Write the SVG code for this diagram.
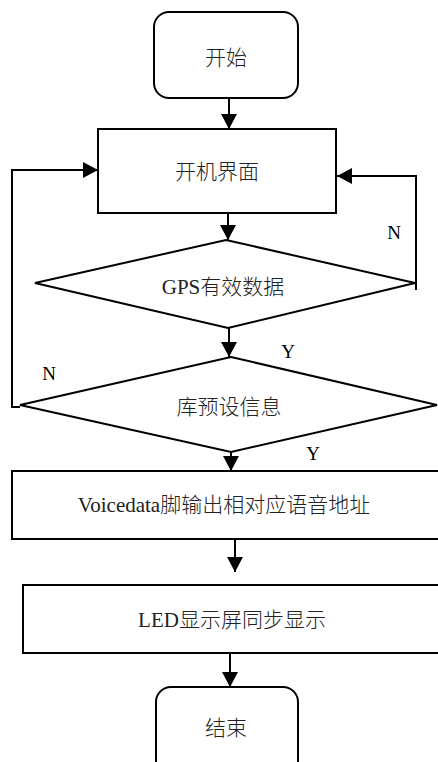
<svg xmlns="http://www.w3.org/2000/svg" width="438" height="762" viewBox="0 0 438 762">
<style>
.s{fill:#fff;stroke:#000;stroke-width:2}
.c{fill:none;stroke:#000;stroke-width:2}
.t{font-family:"Liberation Serif","Noto Sans CJK SC",serif;font-size:21px;font-weight:300;fill:#222;text-anchor:middle}
.l{font-family:"Liberation Serif",serif;font-size:19px;fill:#000;text-anchor:middle}
</style>
<defs>
<marker id="ah" viewBox="0 0 15 16" refX="15" refY="8" markerWidth="15" markerHeight="16" markerUnits="userSpaceOnUse" orient="auto">
<path d="M0,0 L15,8 L0,16 Z" fill="#000"/>
</marker>
</defs>
<rect width="438" height="762" fill="#fff"/>
<g id="start"><rect class="s" x="154" y="12" width="144" height="86" rx="15"/><text class="t" x="226" y="65">开始</text></g>
<g id="boot"><rect class="s" x="98" y="129" width="238" height="84"/><text class="t" x="217" y="179">开机界面</text></g>
<g id="gps"><polygon class="s" points="226,240 415,283 228,328 35,283"/><text class="t" x="223" y="294">GPS有效数据</text></g>
<g id="preset"><polygon class="s" points="231,357 437,405 231,452 20,405"/><text class="t" x="229" y="414">库预设信息</text></g>
<g id="voice"><rect class="s" x="12" y="471" width="440" height="68"/><text class="t" x="224" y="512">Voicedata脚输出相对应语音地址</text></g>
<g id="led"><rect class="s" x="23" y="585" width="430" height="68"/><text class="t" x="232" y="627">LED显示屏同步显示</text></g>
<g id="end"><rect class="s" x="156" y="687" width="142" height="90" rx="15"/><text class="t" x="226" y="735">结束</text></g>
<g id="connectors">
<line class="c" x1="229" y1="98" x2="229" y2="129" marker-end="url(#ah)"/>
<line class="c" x1="228" y1="213" x2="228" y2="240" marker-end="url(#ah)"/>
<polyline class="c" points="416,290 416,176 337,176" marker-end="url(#ah)"/>
<line class="c" x1="415" y1="283" x2="416" y2="283"/>
<line class="c" x1="229" y1="328" x2="229" y2="357" marker-end="url(#ah)"/>
<polyline class="c" points="20,407 12,407 12,170 98,170" marker-end="url(#ah)"/>
<line class="c" x1="231" y1="452" x2="231" y2="471" marker-end="url(#ah)"/>
<line class="c" x1="235" y1="539" x2="235" y2="572" marker-end="url(#ah)"/>
<line class="c" x1="230" y1="653" x2="230" y2="687" marker-end="url(#ah)"/>
<text class="l" x="394" y="239">N</text>
<text class="l" x="288" y="358">Y</text>
<text class="l" x="49" y="380">N</text>
<text class="l" x="313" y="460">Y</text>
</g>
</svg>
